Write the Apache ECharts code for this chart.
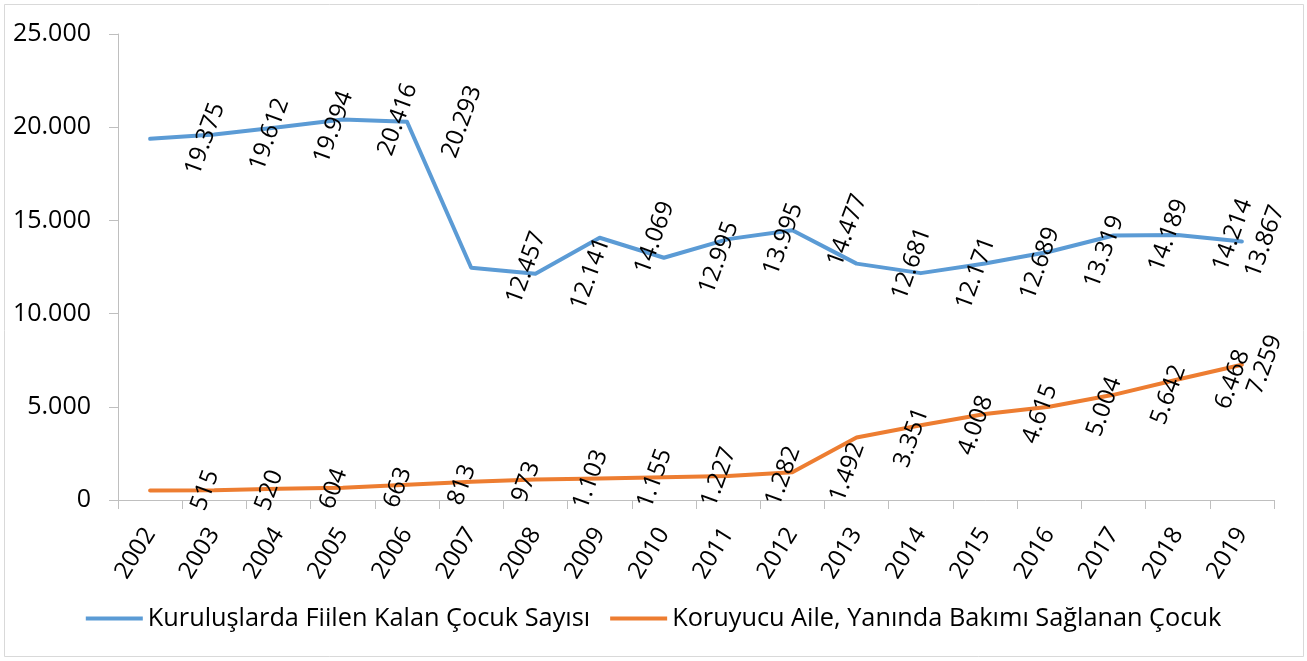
<!DOCTYPE html>
<html>
<head>
<meta charset="utf-8">
<script src="https://cdn.jsdelivr.net/npm/echarts@6/dist/echarts.min.js"></script>
<style>
html,body{margin:0;padding:0;background:#fff;}
#chart{width:1307px;height:661px;}
</style>
</head>
<body>
<div id="chart"></div>
<script>
const years = ['2002','2003','2004','2005','2006','2007','2008','2009','2010','2011','2012','2013','2014','2015','2016','2017','2018','2019'];
const kurulus = [19375, 19612, 19994, 20416, 20293, 12457, 12141, 14069, 12995, 13995, 14477, 12681, 12171, 12689, 13319, 14189, 14214, 13867];
const koruyucu = [515, 520, 604, 663, 813, 973, 1103, 1155, 1227, 1282, 1492, 3351, 4008, 4615, 5004, 5642, 6468, 7259];
const seriesNames = ['Kuruluşlarda Fiilen Kalan Çocuk Sayısı', 'Koruyucu Aile, Yanında Bakımı Sağlanan Çocuk'];
const yTicks = [0, 5000, 10000, 15000, 20000, 25000];

const FONT = 'Open Sans';
function fmt(v){ return String(v).replace(/\B(?=(\d{3})+(?!\d))/g, '.'); }

function items(arr){
  return arr.map((v, i) => {
    const last = i === arr.length - 1;
    return {
      value: v,
      label: { position: [last ? 24 : 56, 1] }
    };
  });
}

const labelStyle = {
  show: true,
  rotate: 70,
  align: 'center',
  verticalAlign: 'middle',
  fontFamily: FONT,
  fontSize: 24,
  color: '#000',
  formatter: p => fmt(p.value)
};

const chart = echarts.init(document.getElementById('chart'), null, {renderer: 'canvas'});
chart.setOption({
  animation: false,
  backgroundColor: '#fff',
  graphic: [{
    type: 'rect',
    shape: {x: 4.5, y: 4.5, width: 1299, height: 652},
    style: {fill: 'none', stroke: '#d9d9d9', lineWidth: 1},
    silent: true
  }],
  grid: {left: 118, right: 33, top: 34, bottom: 161, containLabel: false},
  legend: {
    bottom: 25,
    left: 'center',
    itemWidth: 57,
    itemHeight: 4,
    itemGap: 20,
    icon: 'rect',
    textStyle: {fontFamily: FONT, fontSize: 25.3, color: '#000', padding: [0, 0, 0, 0]},
    data: seriesNames
  },
  xAxis: {
    type: 'category',
    data: years,
    boundaryGap: true,
    axisLine: {show: true, lineStyle: {color: '#bfbfbf', width: 1}},
    axisTick: {show: true, length: 9, alignWithLabel: false, lineStyle: {color: '#bfbfbf'}},
    axisLabel: {rotate: 58, margin: 30, fontFamily: FONT, fontSize: 24, color: '#000', interval: 0},
    splitLine: {show: false}
  },
  yAxis: {
    type: 'value',
    min: 0,
    max: 25000,
    interval: 5000,
    axisLine: {show: true, lineStyle: {color: '#bfbfbf', width: 1}},
    axisTick: {show: true, length: 9, inside: false, lineStyle: {color: '#bfbfbf'}},
    axisLabel: {margin: 27, fontFamily: FONT, fontSize: 25, color: '#000', formatter: v => fmt(v)},
    splitLine: {show: false}
  },
  series: [
    {
      name: seriesNames[0],
      type: 'line',
      data: items(kurulus),
      symbol: 'circle',
      symbolSize: 2,
      showSymbol: true,
      color: '#5B9BD5',
      lineStyle: {width: 4, color: '#5B9BD5', join: 'round', cap: 'round'},
      itemStyle: {color: '#5B9BD5'},
      label: labelStyle,
      z: 3
    },
    {
      name: seriesNames[1],
      type: 'line',
      data: items(koruyucu),
      symbol: 'circle',
      symbolSize: 2,
      showSymbol: true,
      color: '#ED7D31',
      lineStyle: {width: 4, color: '#ED7D31', join: 'round', cap: 'round'},
      itemStyle: {color: '#ED7D31'},
      label: labelStyle,
      z: 3
    }
  ]
});
</script>
</body>
</html>
